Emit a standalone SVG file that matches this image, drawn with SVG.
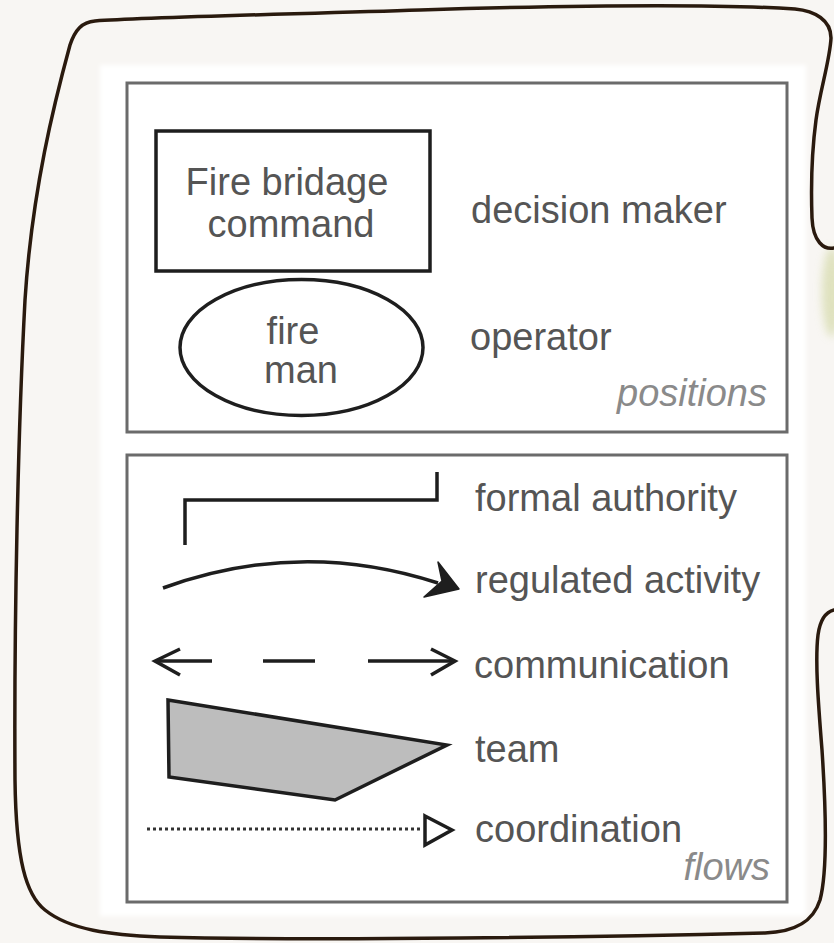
<svg xmlns="http://www.w3.org/2000/svg" width="834" height="943" viewBox="0 0 834 943">
  <defs>
    <filter id="blur" x="-50%" y="-50%" width="200%" height="200%">
      <feGaussianBlur stdDeviation="4"/>
    </filter>
    <filter id="soft" x="-5%" y="-5%" width="110%" height="110%">
      <feGaussianBlur stdDeviation="2"/>
    </filter>
  </defs>
  <style>
    .lbl { font-family: "Liberation Sans", Arial, sans-serif; font-size: 38px; fill: #555555; }
    .cap { font-family: "Liberation Sans", Arial, sans-serif; font-size: 38px; font-style: italic; fill: #8a8a8a; }
    .frame { fill: #ffffff; stroke: #6b6b6b; stroke-width: 3; }
    .sym { stroke: #1e1e1e; stroke-width: 3.5; fill: none; }
  </style>

  <!-- page -->
  <rect x="0" y="0" width="834" height="943" fill="#f8f6f3"/>
  <ellipse cx="832" cy="292" rx="10" ry="45" fill="#d4d9a8" opacity="0.7" filter="url(#blur)"/>
  <rect x="100" y="65" width="706" height="851" fill="#ffffff" filter="url(#soft)"/>

  <!-- hand-drawn border -->
  <path id="border" fill="none" stroke="#2a1a0e" stroke-width="3.5" stroke-linecap="round"
        d="M834,248 C824,250 813,242 812,218 C811,190 812,150 816,120 C820,90 830,60 831,38 C831,20 815,11 795,9 C700,3 550,6 420,10 C300,14 150,17 95,21 C82,22 75,30 70,45 C55,100 32,190 25,300 C18,430 14,620 15,780 C16,860 26,895 45,910 C70,930 110,935 160,937 C320,941 600,937 765,933 C795,932 813,922 820,900 C828,870 826,810 822,750 C818,700 815,660 818,635 C820,620 826,612 834,610"/>

  <!-- positions panel -->
  <g id="positions">
    <rect class="frame" x="127" y="83" width="660" height="349"/>
    <text class="cap" x="767" y="406" text-anchor="end">positions</text>
  </g>

  <g id="node-command">
    <rect x="156" y="131" width="274" height="140" fill="#ffffff" stroke="#1e1e1e" stroke-width="3.5"/>
    <text class="lbl" x="287" y="195" text-anchor="middle">Fire bridage</text>
    <text class="lbl" x="291" y="237" text-anchor="middle">command</text>
  </g>
  <g id="label-decision">
    <text class="lbl" x="471" y="223">decision maker</text>
  </g>

  <g id="node-fireman">
    <ellipse cx="301.5" cy="347.5" rx="121.5" ry="68" fill="#ffffff" stroke="#1e1e1e" stroke-width="3.5"/>
    <text class="lbl" x="293" y="344" text-anchor="middle">fire</text>
    <text class="lbl" x="301" y="383" text-anchor="middle">man</text>
  </g>
  <g id="label-operator">
    <text class="lbl" x="470" y="350">operator</text>
  </g>

  <!-- flows panel -->
  <g id="flows">
    <rect class="frame" x="127" y="455" width="660" height="447"/>
    <text class="cap" x="770" y="880" text-anchor="end">flows</text>
  </g>

  <g id="connectors">
    <!-- formal authority -->
    <path class="sym" d="M185,545 V500 H437 V472"/>
    <!-- regulated activity -->
    <path class="sym" d="M163,588 Q300,538 438,583"/>
    <polygon points="459,589 438,562 442,581 424,597" fill="#1e1e1e" stroke="#1e1e1e" stroke-width="1.5" stroke-linejoin="round"/>
    <!-- communication -->
    <path class="sym" d="M180,649 L155,661 L180,675"/>
    <path class="sym" d="M156,661 H212 M263,661 H315 M368,661 H452"/>
    <path class="sym" d="M431,649 L455,661 L431,675"/>
    <!-- team -->
    <polygon points="168,700 447,745 335,800 169,777" fill="#bdbdbd" stroke="#1e1e1e" stroke-width="3.5"/>
    <!-- coordination -->
    <path d="M147,829 H423" fill="none" stroke="#333333" stroke-width="3" stroke-dasharray="3 3"/>
    <polygon points="425,816 452,830 425,845" fill="#ffffff" stroke="#1e1e1e" stroke-width="3.5"/>
  </g>

  <g id="flow-labels">
    <text class="lbl" x="475" y="511">formal authority</text>
    <text class="lbl" x="475" y="593">regulated activity</text>
    <text class="lbl" x="474" y="678">communication</text>
    <text class="lbl" x="475" y="762">team</text>
    <text class="lbl" x="475" y="842">coordination</text>
  </g>
</svg>
